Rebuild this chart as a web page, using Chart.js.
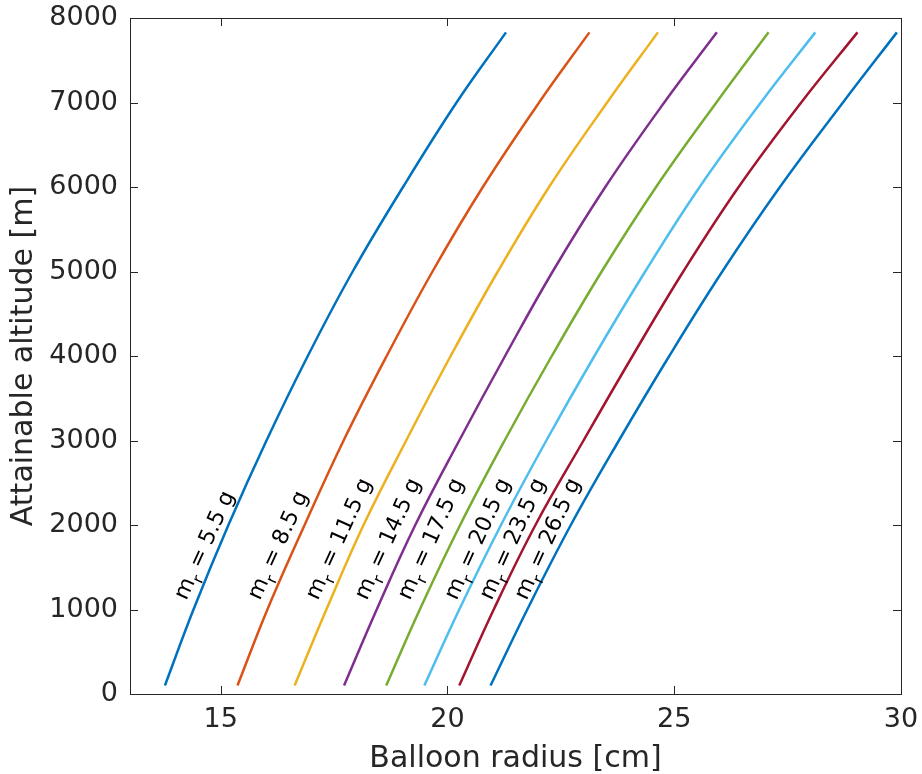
<!DOCTYPE html>
<html>
<head>
<meta charset="utf-8">
<script src="https://cdn.jsdelivr.net/npm/chart.js@4"></script>
<style>
  html, body { margin: 0; padding: 0; background: #fff; }
  #wrap { width: 922px; height: 774px; }
</style>
</head>
<body>
<div id="wrap"><canvas id="chart" width="922" height="774"></canvas></div>
<script>
// altitude samples [m] and balloon radius [cm] read per curve
var altitude = [100, 1000, 2000, 3000, 4000, 5000, 6000, 7000, 7830];
var r55  = [13.77, 14.40, 15.17, 16.01, 16.92, 17.91, 19.02, 20.20, 21.29];
var r85  = [15.37, 16.03, 16.85, 17.71, 18.66, 19.67, 20.78, 22.02, 23.13];
var r115 = [16.63, 17.33, 18.15, 19.09, 20.07, 21.11, 22.24, 23.52, 24.64];
var r145 = [17.72, 18.44, 19.29, 20.26, 21.27, 22.32, 23.48, 24.78, 25.94];
var r175 = [18.65, 19.39, 20.28, 21.26, 22.30, 23.40, 24.60, 25.93, 27.08];
var r205 = [19.49, 20.26, 21.18, 22.18, 23.24, 24.36, 25.56, 26.91, 28.11];
var r235 = [20.26, 21.02, 21.94, 23.00, 24.08, 25.20, 26.42, 27.80, 29.04];
var r265 = [20.95, 21.76, 22.72, 23.78, 24.89, 26.06, 27.33, 28.72, 29.91];
var masses = ['5.5', '8.5', '11.5', '14.5', '17.5', '20.5', '23.5', '26.5'];
var xTicks = [15, 20, 25, 30];
var yTicks = [0, 1000, 2000, 3000, 4000, 5000, 6000, 7000, 8000];

var radii = [r55, r85, r115, r145, r175, r205, r235, r265];
var colors = ['#0072BD', '#D95319', '#EDB120', '#7E2F8E', '#77AC30', '#4DBEEE', '#A2142F', '#0072BD'];
// where each "m_r = ..." label starts (data units)
var labelX = [14.24, 15.86, 17.14, 18.22, 19.17, 20.20, 20.97, 21.74];
var labelY = 1100;

var axisColor = '#262626';
var fontFam = '"DejaVu Sans", sans-serif';

var datasets = radii.map(function(r, i) {
  return {
    label: 'm_r = ' + masses[i] + ' g',
    data: r.map(function(v, k) { return {x: v, y: altitude[k]}; }),
    borderColor: colors[i],
    borderWidth: 2.5,
    pointRadius: 0,
    showLine: true,
    fill: false,
    tension: 0.4
  };
});

var boxPlugin = {
  id: 'boxPlugin',
  afterDraw: function(chart) {
    var ctx = chart.ctx, a = chart.chartArea;
    var x = chart.scales.x, y = chart.scales.y;
    ctx.save();
    ctx.strokeStyle = axisColor;
    ctx.lineWidth = 1;
    ctx.strokeRect(Math.round(a.left) + 0.5, Math.round(a.top) + 0.5,
      Math.round(a.right - a.left), Math.round(a.bottom - a.top));
    ctx.beginPath();
    var tl = 8;
    xTicks.forEach(function(v) {
      var px = Math.round(x.getPixelForValue(v)) + 0.5;
      ctx.moveTo(px, a.bottom); ctx.lineTo(px, a.bottom - tl);
      ctx.moveTo(px, a.top); ctx.lineTo(px, a.top + tl);
    });
    yTicks.forEach(function(v) {
      var py = Math.round(y.getPixelForValue(v)) + 0.5;
      ctx.moveTo(a.left, py); ctx.lineTo(a.left + tl, py);
      ctx.moveTo(a.right, py); ctx.lineTo(a.right - tl, py);
    });
    ctx.stroke();
    ctx.restore();
  }
};

var curveLabels = {
  id: 'curveLabels',
  afterDatasetsDraw: function(chart) {
    var ctx = chart.ctx;
    var x = chart.scales.x, y = chart.scales.y;
    masses.forEach(function(m, i) {
      var px = x.getPixelForValue(labelX[i]);
      var py = y.getPixelForValue(labelY);
      ctx.save();
      ctx.translate(px, py);
      ctx.rotate(-65.5 * Math.PI / 180);
      ctx.fillStyle = '#000';
      ctx.textBaseline = 'alphabetic';
      ctx.textAlign = 'left';
      ctx.font = '22px ' + fontFam;
      ctx.fillText('m', 0, 0);
      var w = ctx.measureText('m').width;
      ctx.font = '16px ' + fontFam;
      ctx.fillText('r', w, 7);
      w += ctx.measureText('r').width;
      ctx.font = '22px ' + fontFam;
      ctx.fillText(' = ' + m + ' g', w, 0);
      ctx.restore();
    });
  }
};

new Chart(document.getElementById('chart'), {
  type: 'scatter',
  data: { datasets: datasets },
  plugins: [boxPlugin, curveLabels],
  options: {
    responsive: false,
    animation: false,
    layout: { padding: { top: 18, right: 21, left: 0, bottom: 0 } },
    plugins: { legend: { display: false }, tooltip: { enabled: false } },
    scales: {
      x: {
        type: 'linear', min: 13, max: 30,
        afterBuildTicks: function(s) { s.ticks = xTicks.map(function(v) { return {value: v}; }); },
        afterFit: function(s) { s.height = 80; s.paddingLeft = 0; s.paddingRight = 0; },
        grid: { display: false },
        border: { display: false },
        ticks: { color: axisColor, font: { family: fontFam, size: 27 }, padding: 2, maxRotation: 0,
          callback: function(v) { return String(v); } },
        title: { display: true, text: 'Balloon radius [cm]', color: axisColor,
          font: { family: fontFam, size: 30, lineHeight: 1 }, padding: { top: 0, bottom: 0 } }
      },
      y: {
        type: 'linear', min: 0, max: 8000,
        afterBuildTicks: function(s) { s.ticks = yTicks.map(function(v) { return {value: v}; }); },
        afterFit: function(s) { s.width = 130; s.paddingTop = 0; s.paddingBottom = 0; },
        grid: { display: false },
        border: { display: false },
        ticks: { color: axisColor, font: { family: fontFam, size: 27 }, padding: 4,
          callback: function(v) { return String(v); } },
        title: { display: true, text: 'Attainable altitude [m]', color: axisColor,
          font: { family: fontFam, size: 30 }, padding: { top: 6, bottom: 0 } }
      }
    }
  }
});
</script>
</body>
</html>
